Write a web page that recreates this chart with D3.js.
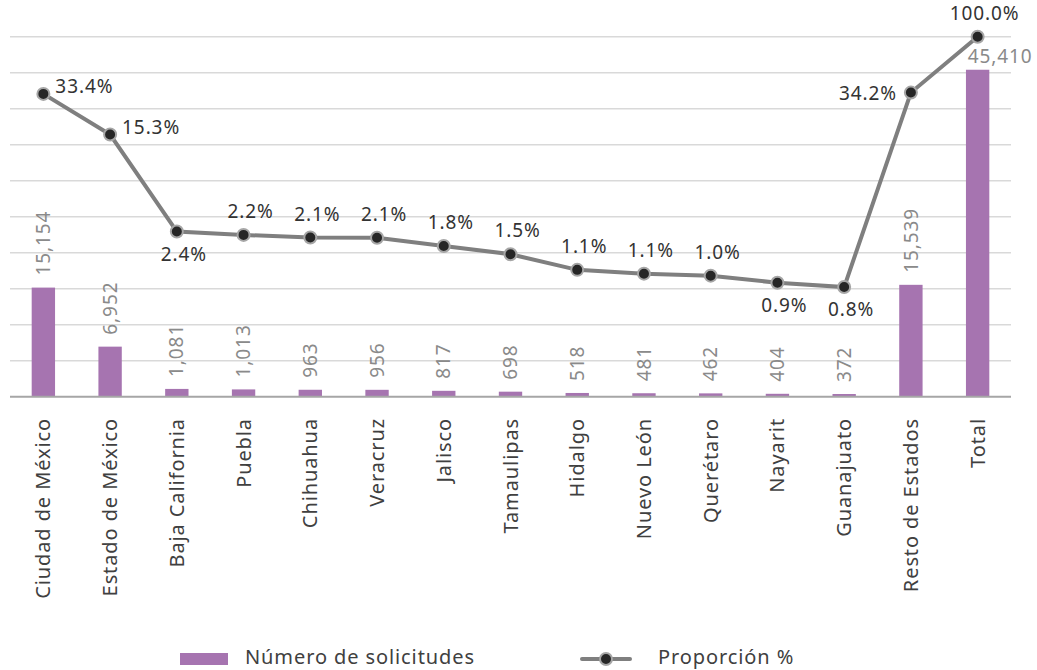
<!DOCTYPE html>
<html>
<head>
<meta charset="utf-8">
<script src="https://cdn.jsdelivr.net/npm/d3@7"></script>
<style>
    body { margin: 0; background: #fff; }
    text { font-family: "Noto Sans", sans-serif; letter-spacing: 0.9px; }
</style>
</head>
<body>
<div id="chart"></div>
<script>
// Categories (states)
var categories = ["Ciudad de México", "Estado de México", "Baja California", "Puebla", "Chihuahua",
    "Veracruz", "Jalisco", "Tamaulipas", "Hidalgo", "Nuevo León", "Querétaro", "Nayarit",
    "Guanajuato", "Resto de Estados", "Total"];

// Número de solicitudes (bars)
var solicitudes = [15154, 6952, 1081, 1013, 963, 956, 817, 698, 518, 481, 462, 404, 372, 15539, 45410];

// Proporción % (line)
var proporcion = [33.37, 15.31, 2.38, 2.23, 2.12, 2.11, 1.80, 1.54, 1.14, 1.06, 1.02, 0.89, 0.82, 34.22, 100.0];

// Legend names
var seriesNames = ["Número de solicitudes", "Proporción %"];

function init() {
    var w = 1037;
    var h = 670;
    var left = 10, right = 1011, top = 36.7, bottom = 396.7;

    // where each percentage label sits relative to its point
    var labelPos = ["right", "right", "below", "above", "above", "above", "above", "above",
        "above", "above", "above", "below", "below", "left", "above"];

    var svg = d3.select("#chart")
        .append("svg")
        .attr("width", w)
        .attr("height", h);

    var xScale = d3.scaleBand()
        .domain(categories)
        .range([left, right])
        .paddingInner(0.65)
        .paddingOuter(0.325);

    var yScale = d3.scaleLinear()
        .domain([0, 50000])
        .range([bottom, top]);

    // secondary axis for the line is logarithmic
    var pScale = d3.scaleLog()
        .domain([0.1, 100])
        .range([bottom, top]);

    var cx = function(d, i) { return xScale(categories[i]) + xScale.bandwidth() / 2; };

    // gridlines
    svg.append("g")
        .selectAll("line")
        .data(yScale.ticks(10).filter(function(t) { return t > 0; }))
        .enter()
        .append("line")
        .attr("x1", left)
        .attr("x2", right)
        .attr("y1", function(d) { return yScale(d); })
        .attr("y2", function(d) { return yScale(d); })
        .attr("stroke", "#d9d9d9")
        .attr("stroke-width", 1.5);

    // bars
    svg.append("g")
        .selectAll("rect")
        .data(solicitudes)
        .enter()
        .append("rect")
        .attr("x", function(d, i) { return xScale(categories[i]); })
        .attr("y", function(d) { return yScale(d); })
        .attr("width", xScale.bandwidth())
        .attr("height", function(d) { return bottom - yScale(d); })
        .attr("fill", "#a674b0");

    // baseline
    svg.append("line")
        .attr("x1", left)
        .attr("x2", right)
        .attr("y1", bottom)
        .attr("y2", bottom)
        .attr("stroke", "#a6a6a6")
        .attr("stroke-width", 2);

    // bar value labels (rotated, the total one horizontal)
    var fmt = d3.format(",");
    svg.append("g")
        .selectAll("text")
        .data(solicitudes)
        .enter()
        .append("text")
        .attr("transform", function(d, i) {
            if (i === categories.length - 1) {
                return "translate(" + (cx(d, i) - 10) + "," + (yScale(d) - 7) + ")";
            }
            return "translate(" + cx(d, i) + "," + (yScale(d) - 12) + ") rotate(-90)";
        })
        .attr("dy", function(d, i) { return i === categories.length - 1 ? 0 : "0.35em"; })
        .attr("font-size", 19)
        .attr("fill", "#8a8a8a")
        .text(function(d) { return fmt(d); });

    // line
    var line = d3.line()
        .x(function(d, i) { return cx(d, i); })
        .y(function(d) { return pScale(d); });

    svg.append("path")
        .datum(proporcion)
        .attr("d", line)
        .attr("fill", "none")
        .attr("stroke", "#7f7f7f")
        .attr("stroke-width", 4);

    svg.append("g")
        .selectAll("circle")
        .data(proporcion)
        .enter()
        .append("circle")
        .attr("cx", cx)
        .attr("cy", function(d) { return pScale(d); })
        .attr("r", 6)
        .attr("fill", "#262626")
        .attr("stroke", "#a6a6a6")
        .attr("stroke-width", 2);

    // percentage labels
    svg.append("g")
        .selectAll("text")
        .data(proporcion)
        .enter()
        .append("text")
        .attr("x", function(d, i) {
            var p = labelPos[i];
            if (p === "right") return cx(d, i) + 12;
            if (p === "left") return cx(d, i) - 14;
            return cx(d, i) + 7;
        })
        .attr("y", function(d, i) {
            var p = labelPos[i], y = pScale(d);
            if (p === "right") return y - 1;
            if (p === "left") return y + 7;
            if (p === "below") return y + 29;
            return y - 17;
        })
        .attr("text-anchor", function(d, i) {
            var p = labelPos[i];
            return p === "right" ? "start" : (p === "left" ? "end" : "middle");
        })
        .attr("font-size", 19)
        .attr("fill", "#333333")
        .text(function(d) { return d.toFixed(1) + "%"; });

    // category labels
    svg.append("g")
        .selectAll("text")
        .data(categories)
        .enter()
        .append("text")
        .attr("transform", function(d) {
            return "translate(" + (xScale(d) + xScale.bandwidth() / 2) + ",418) rotate(-90)";
        })
        .attr("dy", "0.35em")
        .attr("text-anchor", "end")
        .attr("font-size", 20)
        .attr("fill", "#404040")
        .text(function(d) { return d; });

    // legend
    var legend = svg.append("g");
    legend.append("rect")
        .attr("x", 180)
        .attr("y", 653)
        .attr("width", 48)
        .attr("height", 12)
        .attr("fill", "#a674b0");
    legend.append("text")
        .attr("x", 245)
        .attr("y", 664)
        .attr("font-size", 20)
        .attr("fill", "#404040")
        .text(seriesNames[0]);
    legend.append("line")
        .attr("x1", 582)
        .attr("x2", 630)
        .attr("y1", 659)
        .attr("y2", 659)
        .attr("stroke", "#7f7f7f")
        .attr("stroke-width", 4)
        .attr("stroke-linecap", "round");
    legend.append("circle")
        .attr("cx", 606)
        .attr("cy", 659)
        .attr("r", 6)
        .attr("fill", "#262626")
        .attr("stroke", "#a6a6a6")
        .attr("stroke-width", 2);
    legend.append("text")
        .attr("x", 658)
        .attr("y", 664)
        .attr("font-size", 20)
        .attr("fill", "#404040")
        .text(seriesNames[1]);
}

window.onload = init;
</script>
</body>
</html>
